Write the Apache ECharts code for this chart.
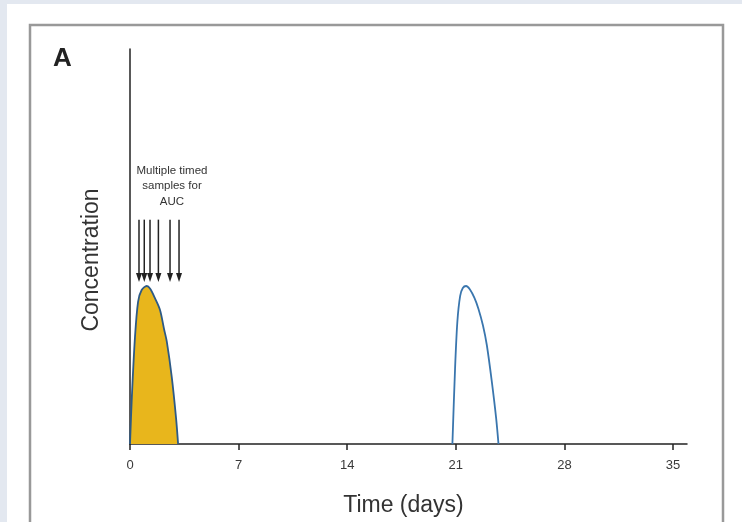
<!DOCTYPE html>
<html>
<head>
<meta charset="utf-8">
<script src="https://cdn.jsdelivr.net/npm/echarts@6/dist/echarts.min.js"></script>
<style>
html,body{margin:0;padding:0;background:#e3e8f0;}
#chart{width:742px;height:522px;}
</style>
</head>
<body>
<div id="chart"></div>
<script>
// Data
var xTicks = [0, 7, 14, 21, 28, 35];
var dose1Days = [0, 0.12, 0.32, 0.52, 0.75, 1.08, 1.3, 1.6, 1.93, 2.2, 2.37, 2.69, 2.97, 3.1];
var dose1Conc = [0, 12, 27, 36, 39, 40, 39.3, 37, 34, 29, 26, 17, 6.5, 0];
var dose2Days = [20.78, 20.95, 21.1, 21.28, 21.45, 21.66, 21.9, 22.2, 22.46, 22.75, 23.0, 23.32, 23.6, 23.75];
var dose2Conc = [0, 19, 31, 37.5, 39.5, 40, 39.2, 37, 34.2, 30, 25, 15.8, 6.5, 0];
var sampleDays = [0.58, 0.92, 1.29, 1.83, 2.58, 3.16];
var arrowTop = 56.8;
var arrowTip = 41.0;
var annotationLines = ['Multiple timed', 'samples for', 'AUC'];

function pairs(xs, ys){ return xs.map(function(x,i){ return [x, ys[i]]; }); }

var chart = echarts.init(document.getElementById('chart'), null, {renderer:'canvas'});
var option = {
  backgroundColor: '#e3e8f0',
  animation: false,
  grid: {left: 130, top: 49, right: 55, bottom: 76},
  xAxis: {
    type: 'value', min: 0, max: 35.9,
    axisLine: {show: true, lineStyle: {color: '#222', width: 1.5}},
    axisTick: {show: true, length: 6, lineStyle: {color: '#222', width: 1.5}, customValues: xTicks},
    axisLabel: {color: '#3a3a3a', fontSize: 13, fontFamily: 'Liberation Sans, Arial, sans-serif', margin: 15, customValues: xTicks},
    splitLine: {show: false},
    name: 'Time (days)', nameLocation: 'middle', nameGap: 50,
    nameTextStyle: {color: '#333', fontSize: 23, fontFamily: 'Liberation Sans, Arial, sans-serif', padding: [0, 10, 0, 0]}
  },
  yAxis: {
    type: 'value', min: 0, max: 100,
    axisLine: {show: true, lineStyle: {color: '#222', width: 1.5}},
    axisTick: {show: false},
    axisLabel: {show: false},
    splitLine: {show: false}
  },
  graphic: [
    {type: 'rect', z: -10, shape: {x: 7, y: 4, width: 735, height: 530}, style: {fill: '#ffffff'}},
    {type: 'rect', z: -9, shape: {x: 30, y: 25, width: 693, height: 520}, style: {fill: 'none', stroke: '#999', lineWidth: 2.5}},
    {type: 'text', left: 53, top: 46, style: {text: 'A', fill: '#222', font: 'bold 26px Liberation Sans, Arial, sans-serif'}},
    {type: 'text', x: 172, y: 163, style: {text: annotationLines.join('\n'), fill: '#333', font: '11.5px Liberation Sans, Arial, sans-serif', textAlign: 'center', lineHeight: 15.5}},
    {type: 'text', x: 92, y: 260, rotation: Math.PI / 2, style: {text: 'Concentration', fill: '#333', font: '23px Liberation Sans, Arial, sans-serif', textAlign: 'center', textVerticalAlign: 'middle'}}
  ],
  series: [
    {
      type: 'line', data: pairs(dose1Days, dose1Conc), smooth: 0.3, symbol: 'none',
      lineStyle: {color: '#2d5a86', width: 1.8},
      areaStyle: {color: '#e8b61c', opacity: 1}
    },
    {
      type: 'line', data: pairs(dose2Days, dose2Conc), smooth: 0.3, symbol: 'none',
      lineStyle: {color: '#3a76ae', width: 1.8}
    },
    {
      type: 'custom', data: sampleDays.map(function(d){ return [d, arrowTop, arrowTip]; }),
      renderItem: function(params, api){
        var top = api.coord([api.value(0), api.value(1)]);
        var tip = api.coord([api.value(0), api.value(2)]);
        return {type: 'group', children: [
          {type: 'line', shape: {x1: top[0], y1: top[1], x2: tip[0], y2: tip[1] - 4}, style: {stroke: '#222', lineWidth: 1.5}},
          {type: 'polygon', shape: {points: [[tip[0]-3, tip[1]-9], [tip[0]+3, tip[1]-9], [tip[0], tip[1]]]}, style: {fill: '#222'}}
        ]};
      }
    }
  ]
};
chart.setOption(option);
</script>
</body>
</html>
